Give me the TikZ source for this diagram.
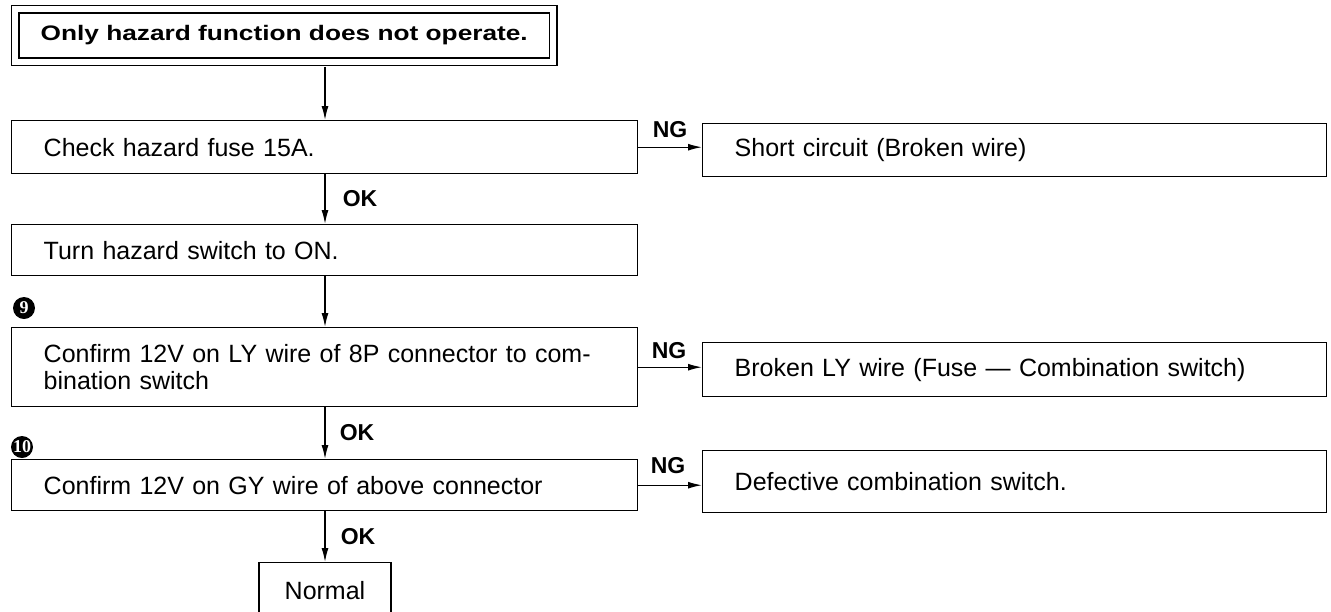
\documentclass[tikz,border=0pt]{standalone}
\usepackage{fontspec}
\setmainfont{Liberation Sans}
\newfontfamily\titlefont[FakeStretch=1.25]{Liberation Sans}
\newfontfamily\numfont{Liberation Serif}
\usetikzlibrary{arrows.meta}
\begin{document}
\begin{tikzpicture}[x=0.5pt,y=-0.5pt,line width=0.7pt,
  every node/.style={font=\fontsize{12.5}{13.5}\selectfont},
  chkbox/.style={draw,anchor=north west,inner xsep=16pt,inner ysep=0pt,align=left,text width=281pt},
  ngbox/.style={draw,anchor=north west,inner xsep=16pt,inner ysep=0pt,align=left,text width=280pt},
  verdict/.style={font=\fontsize{11.5}{13}\selectfont\bfseries},
  stepno/.style={circle,fill=black,text=white,inner sep=0pt,minimum size=11pt,font=\fontsize{9}{9}\selectfont\numfont\bfseries},
  arr/.style={-{Latex[length=7pt,width=3.5pt]}}]
\useasboundingbox (0,0) rectangle (1331,611);
\node[draw,double,double distance=3pt,anchor=north west,minimum width=269pt,minimum height=26.25pt,inner sep=0pt,font=\fontsize{10.5}{12}\selectfont\titlefont\bfseries] (ttl) at (14.5,8.5) {Only hazard function does not operate.};
\coordinate (ax) at (325,0);
\node[chkbox,minimum height=26.5pt] (b2) at (11,120) {Check hazard fuse 15A.};
\node[ngbox,minimum height=26.5pt] (r1) at (702,123) {Short circuit (Broken wire)};
\node[chkbox,minimum height=25.5pt] (b3) at (11,224) {Turn hazard switch to ON.};
\node[stepno] (n9) at (24,308) {9};
\node[chkbox,minimum height=39.5pt] (b4) at (11,327) {Confirm 12V on LY wire of 8P connector to com-\\bination switch};
\node[ngbox,minimum height=27pt] (r2) at (702,342) {Broken LY wire (Fuse --- Combination switch)};
\node[stepno] (n10) at (22,447) {10};
\node[chkbox,minimum height=25.5pt] (b5) at (11,459) {Confirm 12V on GY wire of above connector};
\node[ngbox,minimum height=31pt] (r3) at (702,450) {Defective combination switch.};
\node[draw,anchor=north,minimum width=66pt,minimum height=28pt] (nrm) at (325,562) {Normal};
\draw[arr] ([yshift=-2.2pt]ttl.south -| ax) -- (b2.north -| ax);
\draw[arr] (b2.south -| ax) -- (b3.north -| ax);
\draw[arr] (b3.south -| ax) -- (b4.north -| ax);
\draw[arr] (b4.south -| ax) -- (b5.north -| ax);
\draw[arr] (b5.south -| ax) -- (nrm.north);
\draw[arr] (b2.east) -- (b2.east -| r1.west);
\draw[arr] (b4.east) -- (b4.east -| r2.west);
\draw[arr] (b5.east) -- (b5.east -| r3.west);
\node[verdict] (ok1) at (360,199) {OK};
\node[verdict] (ok2) at (357,433) {OK};
\node[verdict] (ok3) at (358,537) {OK};
\node[verdict] (ng1) at (670,130) {NG};
\node[verdict] (ng2) at (669,351) {NG};
\node[verdict] (ng3) at (668,466) {NG};
\end{tikzpicture}
\end{document}
